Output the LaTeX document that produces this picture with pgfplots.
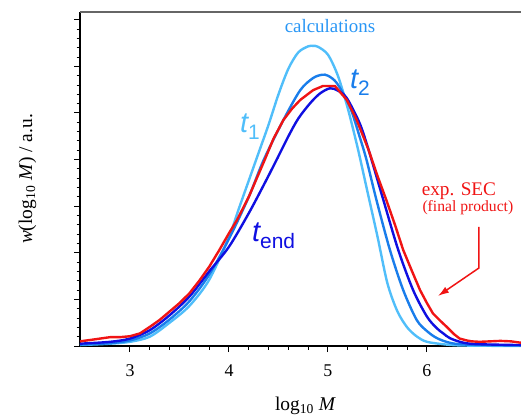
\documentclass[border=0pt]{standalone}
\usepackage{pgfplots}
\pgfplotsset{compat=1.18}
\usepackage{fontspec}
\setmainfont{Liberation Serif}
\newfontfamily\hv{Liberation Sans}
\usetikzlibrary{arrows.meta}
\definecolor{lb}{RGB}{80,190,250}
\definecolor{mb}{RGB}{25,125,235}
\definecolor{db}{RGB}{15,15,225}
\definecolor{rc}{RGB}{240,20,20}
\definecolor{calc}{RGB}{40,150,245}
\newcommand\tlab[1]{{\hv\fontsize{29}{29}\selectfont\itshape t}{\hv\fontsize{21}{21}\selectfont\raisebox{-7bp}{#1}}}
\begin{document}
\begin{tikzpicture}[x=1bp,y=1bp]
\useasboundingbox (-80,-70) rectangle (441,346);
\begin{axis}[
  scale only axis, width=441bp, height=334bp,
  xmin=2.495, xmax=6.95, ymin=0, ymax=7.167,
  axis x line*=bottom, axis y line*=left,
  axis line style={black, line width=1.1bp},
  tick align=outside,
  major tick length=6bp, minor tick length=3.5bp,
  every tick/.style={black, line width=1bp},
  xtick={3,4,5,6}, minor x tick num=4,
  ytick={0,1,2,3,4,5,6,7}, yticklabels={}, minor y tick num=4,
  /pgf/number format/assume math mode=true,
  ticklabel style={font=\fontsize{18}{18}\selectfont},
  xticklabel style={yshift=-9bp},
  xlabel={log\textsubscript{10} \textit{M}},
  ylabel={\textit{w}(log\textsubscript{10} \textit{M}) / a.u.},
  label style={font=\fontsize{19.5}{19.5}\selectfont},
  x label style={at={(axis description cs:0.5,0)}, anchor=base, yshift=-64bp, xshift=5bp},
  y label style={at={(axis description cs:-0.1088,0.5)}, rotate=0, anchor=base},
  clip=false,
]
\draw[black!60, line width=1.3bp] (rel axis cs:0,1) -- (rel axis cs:1,1);
% t1
\addplot[lb, line width=2.4bp, smooth] coordinates {
(2.495,0.02) (2.8,0.05) (3.0,0.09) (3.2,0.2) (3.4,0.5) (3.6,0.86) (3.8,1.42)
(4.0,2.34) (4.1,2.95) (4.2,3.55) (4.3,4.15) (4.4,4.75) (4.5,5.4) (4.6,5.95)
(4.7,6.3) (4.8,6.43) (4.85,6.44) (4.9,6.42) (5.0,6.25) (5.1,5.8) (5.2,5.1)
(5.3,4.25) (5.4,3.3) (5.5,2.35) (5.6,1.35) (5.7,0.75) (5.8,0.4) (5.9,0.2)
(6.0,0.09) (6.2,0.03) (6.4,0.01) (6.95,0)};
% t2
\addplot[mb, line width=2.4bp, smooth] coordinates {
(2.495,0.03) (2.8,0.06) (3.0,0.12) (3.2,0.27) (3.4,0.57) (3.6,0.96) (3.8,1.53)
(4.0,2.3) (4.2,3.2) (4.35,3.99) (4.55,4.85) (4.72,5.49) (4.85,5.75) (4.94,5.82)
(5.0,5.8) (5.09,5.64) (5.22,5.14) (5.32,4.49) (5.39,3.99) (5.49,3.13)
(5.626,2.06) (5.76,1.2) (5.896,0.56) (6.0,0.32) (6.1,0.17) (6.23,0.07)
(6.4,0.03) (6.95,0.01)};
% tend
\addplot[db, line width=2.4bp, smooth] coordinates {
(2.495,0.05) (2.8,0.09) (3.0,0.16) (3.2,0.34) (3.4,0.66) (3.6,1.06) (3.8,1.6)
(4.0,2.13) (4.2,2.85) (4.35,3.45) (4.48,3.99) (4.6,4.5) (4.7,4.88) (4.82,5.21)
(4.92,5.42) (5.02,5.53) (5.1,5.48) (5.19,5.32) (5.32,4.78) (5.41,4.21)
(5.56,3.13) (5.71,2.06) (5.86,1.2) (6.0,0.63) (6.1,0.38) (6.165,0.27)
(6.23,0.17) (6.35,0.08) (6.5,0.04) (6.95,0.02)};
% exp SEC
\addplot[rc, line width=2.4bp] coordinates {
(2.495,0.1) (2.6,0.13) (2.7,0.16) (2.8,0.19) (2.9,0.19) (3.0,0.21) (3.1,0.27)
(3.2,0.41) (3.3,0.56) (3.4,0.74) (3.5,0.92) (3.6,1.13) (3.7,1.4) (3.8,1.7)
(3.9,2.05) (4.0,2.42) (4.08,2.7) (4.2,3.2) (4.36,3.99) (4.45,4.45) (4.55,4.85)
(4.64,5.1) (4.72,5.28) (4.85,5.49) (4.95,5.58) (5.07,5.58) (5.19,5.28)
(5.29,4.85) (5.41,4.21) (5.5,3.65) (5.59,3.13) (5.68,2.58) (5.76,2.06)
(5.85,1.6) (5.93,1.2) (6.0,0.92) (6.06,0.7) (6.13,0.55) (6.2,0.41)
(6.27,0.26) (6.33,0.16) (6.4,0.12) (6.45,0.1) (6.53,0.09) (6.64,0.1)
(6.74,0.11) (6.85,0.1) (6.95,0.07)};
\node[calc, anchor=base, font=\fontsize{19}{19}\selectfont] at (axis cs:5.02,6.73) {calculations};
\node[lb, anchor=base west, inner sep=0] at (axis cs:4.111,4.578) {\tlab{1}};
\node[mb, anchor=base west, inner sep=0] at (axis cs:5.222,5.536) {\tlab{2}};
\node[db, anchor=base west, inner sep=0] at (axis cs:4.232,2.238) {\tlab{end}};
\node[rc, anchor=base west, inner sep=0, font=\fontsize{19.3}{19.3}\selectfont] at (axis cs:5.946,3.24) {exp. SEC};
\node[rc, anchor=base west, inner sep=0, font=\fontsize{15.7}{15.7}\selectfont] at (axis cs:5.953,2.88) {(final product)};
\draw[rc, line width=1.5bp, -{Latex[length=11bp,width=7bp]}] (axis cs:6.525,2.554) -- (axis cs:6.525,1.674) -- (axis cs:6.111,1.073);
\end{axis}
\end{tikzpicture}
\end{document}
